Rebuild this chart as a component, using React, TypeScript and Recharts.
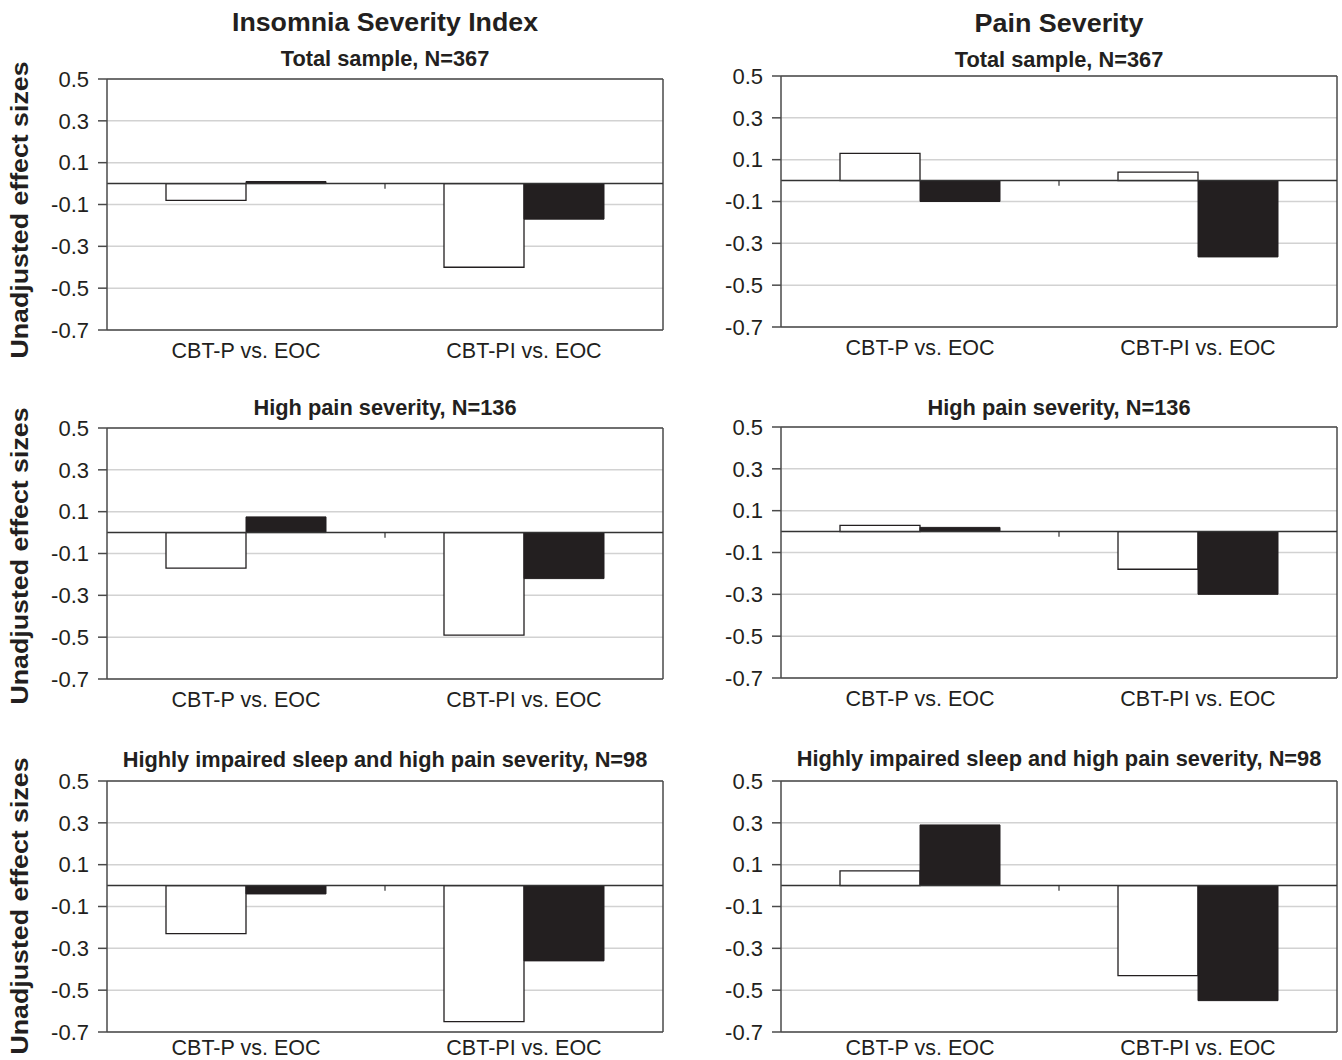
import React from 'react';
import { BarChart, Bar, XAxis, YAxis, CartesianGrid, ReferenceLine } from 'recharts';

const categories = ['CBT-P vs. EOC', 'CBT-PI vs. EOC'];
const yTicks = [0.5, 0.3, 0.1, -0.1, -0.3, -0.5, -0.7];
const columnTitles = ['Insomnia Severity Index', 'Pain Severity'];
const rowSubtitles = [
  'Total sample, N=367',
  'High pain severity, N=136',
  'Highly impaired sleep and high pain severity, N=98',
];
const yLabel = 'Unadjusted effect sizes';

// Insomnia Severity Index (left column), white bar then black bar per comparison
const isiTotalOpen = [-0.08, -0.4];
const isiTotalFilled = [0.01, -0.17];
const isiHighPainOpen = [-0.17, -0.49];
const isiHighPainFilled = [0.075, -0.22];
const isiImpairedOpen = [-0.23, -0.65];
const isiImpairedFilled = [-0.04, -0.36];

// Pain Severity (right column)
const painTotalOpen = [0.13, 0.04];
const painTotalFilled = [-0.1, -0.365];
const painHighPainOpen = [0.03, -0.18];
const painHighPainFilled = [0.02, -0.3];
const painImpairedOpen = [0.07, -0.43];
const painImpairedFilled = [0.29, -0.55];

const INK = '#231f20';
const FRAME = '#4a4a4a';
const FONT = '"Liberation Sans", Arial, Helvetica, sans-serif';
const PLOT_W = 556;
const PLOT_H = 251;
const AXIS_W = 100;
const TOP_PAD = 20;

const buildRows = (open: number[], filled: number[]) =>
  categories.map((name, i) => ({ name, open: open[i], filled: filled[i] }));

// plot-area placement on the page
const colLeft = [107, 781];
const colCenter = [385, 1059];
const plotTops = [
  [79.3, 427.7, 780.7],
  [75.7, 426.7, 780.7],
];
const subtitleBase = [
  [65.7, 415, 766.7],
  [66.7, 415, 766],
];
const yLabelCenter = [210, 556, 906];
const labelGap = [7, 7, 2]; // bottom row labels sit tighter under the plot

const panels = [
  { col: 0, row: 0, open: isiTotalOpen, filled: isiTotalFilled },
  { col: 0, row: 1, open: isiHighPainOpen, filled: isiHighPainFilled },
  { col: 0, row: 2, open: isiImpairedOpen, filled: isiImpairedFilled },
  { col: 1, row: 0, open: painTotalOpen, filled: painTotalFilled },
  { col: 1, row: 1, open: painHighPainOpen, filled: painHighPainFilled },
  { col: 1, row: 2, open: painImpairedOpen, filled: painImpairedFilled },
];

const Panel = ({
  left,
  top,
  gap,
  open,
  filled,
}: {
  left: number;
  top: number;
  gap: number;
  open: number[];
  filled: number[];
}) => {
  const data = buildRows(open, filled);
  return (
    <div style={{ position: 'absolute', left: left - AXIS_W, top: top - TOP_PAD }}>
      <BarChart
        width={AXIS_W + PLOT_W + 10}
        height={TOP_PAD + PLOT_H + 40}
        data={data}
        margin={{ top: TOP_PAD, right: 10, bottom: 0, left: 0 }}
        barGap={0}
      >
        <CartesianGrid vertical={false} stroke="#d2d2d2" strokeWidth={1.5} />
        <XAxis
          dataKey="name"
          axisLine={false}
          tickLine={false}
          height={40}
          tickSize={6}
          tickMargin={gap}
          interval={0}
          tick={{ fontSize: 21.5, fill: INK, fontFamily: FONT }}
        />
        <YAxis
          domain={[-0.7, 0.5]}
          ticks={yTicks}
          interval={0}
          width={AXIS_W}
          tickSize={9}
          tickMargin={9}
          axisLine={{ stroke: FRAME, strokeWidth: 1.5 }}
          tickLine={{ stroke: FRAME, strokeWidth: 1.5 }}
          tick={{ fontSize: 22, fill: INK, fontFamily: FONT }}
          tickFormatter={(v: number) => v.toFixed(1)}
        />
        <Bar dataKey="open" fill="#ffffff" stroke={INK} strokeWidth={1.3} barSize={80} isAnimationActive={false} />
        <Bar dataKey="filled" fill={INK} stroke={INK} strokeWidth={1} barSize={80} isAnimationActive={false} />
        {/* plot frame: top, bottom, right */}
        <ReferenceLine y={0.5} stroke={FRAME} strokeWidth={1.5} />
        <ReferenceLine y={-0.7} stroke={FRAME} strokeWidth={1.5} />
        <ReferenceLine x={categories[1]} position="end" stroke={FRAME} strokeWidth={1.5} />
        <ReferenceLine y={0} stroke="#333333" strokeWidth={1.5} />
        {/* category boundary tick below the zero line */}
        <ReferenceLine
          position="start"
          segment={[{ x: categories[1], y: 0 }, { x: categories[1], y: -0.025 }]}
          stroke="#333333"
          strokeWidth={1.2}
        />
      </BarChart>
    </div>
  );
};

export default function App() {
  return (
    <div style={{ position: 'absolute', left: 0, top: 0, width: 1342, height: 1060, background: '#ffffff', overflow: 'hidden' }}>
      {panels.map((p) => (
        <Panel
          key={`${p.col}-${p.row}`}
          left={colLeft[p.col]}
          top={plotTops[p.col][p.row]}
          gap={labelGap[p.row]}
          open={p.open}
          filled={p.filled}
        />
      ))}
      <svg width={1342} height={1060} style={{ position: 'absolute', left: 0, top: 0, pointerEvents: 'none' }}>
        <g fill={INK} fontFamily={FONT} fontWeight="bold" textAnchor="middle">
          <text x={colCenter[0]} y={31} fontSize={25} textLength={306} lengthAdjust="spacingAndGlyphs">
            {columnTitles[0]}
          </text>
          <text x={colCenter[1]} y={31.5} fontSize={25} textLength={169} lengthAdjust="spacingAndGlyphs">
            {columnTitles[1]}
          </text>
          {[0, 1].map((c) =>
            rowSubtitles.map((s, r) => (
              <text key={`${c}-${r}`} x={colCenter[c]} y={subtitleBase[c][r]} fontSize={21.8}>
                {s}
              </text>
            ))
          )}
          {yLabelCenter.map((cy, i) => (
            <text
              key={i}
              x={28}
              y={cy}
              fontSize={24}
              textLength={297}
              lengthAdjust="spacingAndGlyphs"
              transform={`rotate(-90 28 ${cy})`}
            >
              {yLabel}
            </text>
          ))}
        </g>
      </svg>
    </div>
  );
}
